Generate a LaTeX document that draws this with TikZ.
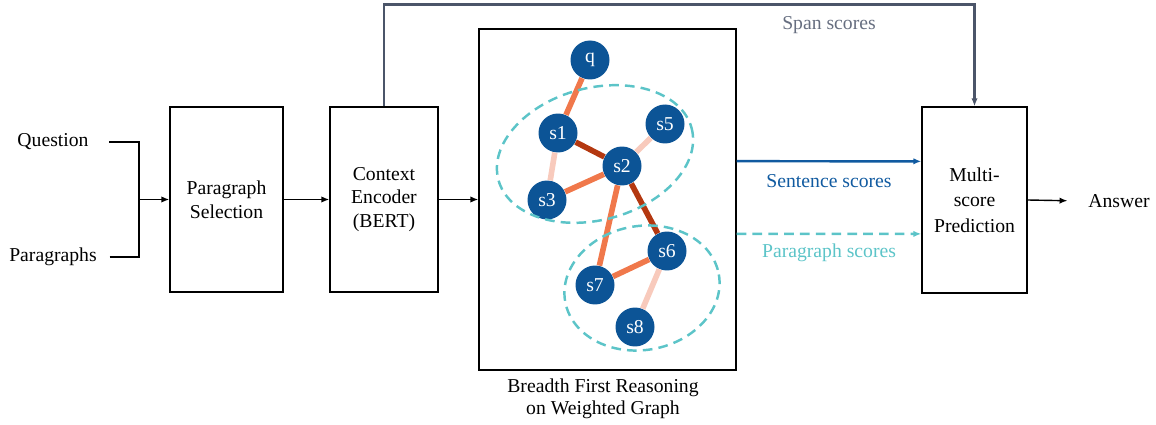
\documentclass[tikz,border=0pt]{standalone}
\usepackage{fontspec}
\setmainfont{Liberation Serif}
\usetikzlibrary{arrows.meta,calc}
\definecolor{nodeblue}{RGB}{12,84,150}
\definecolor{edgedark}{RGB}{180,56,16}
\definecolor{edgemid}{RGB}{240,120,75}
\definecolor{edgelight}{RGB}{248,202,188}
\definecolor{hoptea}{RGB}{92,196,200}
\definecolor{spangray}{RGB}{75,85,105}
\definecolor{sentblue}{RGB}{16,90,160}

\begin{document}
\begin{tikzpicture}[x=0.02cm,y=-0.02cm,
  >={Latex[length=4.5pt,width=3.6pt]},
  stage/.style={draw,line width=0.8pt,align=center,inner sep=0pt},
  gnode/.style={circle,fill=nodeblue,text=white,minimum size=0.78cm,inner sep=0pt},
  wdark/.style={edgedark,line width=3.2pt},
  wmid/.style={edgemid,line width=3.2pt},
  wlight/.style={edgelight,line width=3.2pt},
  hop/.style={hoptea,line width=1.4pt,dash pattern=on 5.5pt off 3.5pt}]
\fontsize{11.2}{13.6}\selectfont
\useasboundingbox (0,0) rectangle (1156,425);

% inputs
\node (ques) at (53,142) {Question};
\node (paras) at (53,257) {Paragraphs};
\coordinate (join) at (139,199.5);

% pipeline boxes
\node[stage,minimum width=2.26cm,minimum height=3.7cm] (sel) at (226.5,199.5) {Paragraph\\Selection};
\node[stage,minimum width=2.16cm,minimum height=3.7cm] (enc) at (384,199.5) {Context\\Encoder\\(BERT)};
\node[stage,minimum width=5.14cm,minimum height=6.82cm] (graph) at (607.5,199.5) {};
\node[stage,minimum width=2.1cm,minimum height=3.72cm,font=\fontsize{11.2}{14.4}\selectfont] (pred) at (974.5,200) {Multi-\\score\\Prediction};
\node (ans) at (1119,201) {Answer};

\node[align=center,font=\fontsize{11.2}{12.5}\selectfont] (cap) at (603,399) {Breadth First Reasoning\\on Weighted Graph};

% sentence graph
\node[gnode] (q)  at (590,60)  {q};
\node[gnode] (s1) at (558,133) {s1};
\node[gnode] (s5) at (665,124) {s5};
\node[gnode] (s2) at (622,166) {s2};
\node[gnode] (s3) at (547,200) {s3};
\node[gnode] (s6) at (667,251) {s6};
\node[gnode] (s7) at (595,285) {s7};
\node[gnode] (s8) at (635,327) {s8};

\draw[wmid] (q) -- (s1);
\draw[wdark] (s1) -- (s2);
\draw[wlight] (s1) -- (s3);
\draw[wlight] (s2) -- (s5);
\draw[wmid] (s2) -- (s3);
\draw[wmid] (s2) -- (s7);
\draw[wdark] (s2) -- (s6);
\draw[wmid] (s6) -- (s7);
\draw[wlight] (s6) -- (s8);

\draw[hop,rotate around={15:(595,154)}] (595,154) ellipse [x radius=100, y radius=66];
\draw[hop,rotate around={10:(642,288)}] (642,288) ellipse [x radius=78, y radius=62];

% connectors
\draw[line width=0.8pt] ([xshift=7.9pt]ques.east) -| (join);
\draw[line width=0.8pt] ([xshift=3.4pt]paras.east) -| (join);
\draw[->,line width=0.8pt] (join) -- (sel.west);
\draw[->,line width=0.8pt] (sel.east) -- (enc.west);
\draw[->,line width=0.8pt] (enc.east) -- (graph.west);
\draw[->,line width=0.8pt,shorten >=8pt] (pred.east) -- (ans.west);

\draw[->,spangray,line width=1.4pt] (enc.north) -- ++(0,-102) -| (pred.north);
\node[text=spangray!85] (spanlbl) at (829,25) {Span scores};

\draw[->,sentblue,line width=1.4pt] ([yshift=21.8pt]graph.east) -- ([yshift=22pt]pred.west);
\node[text=sentblue] (sentlbl) at (829,181) {Sentence scores};

\draw[->,hop] ([yshift=-19.6pt]graph.east) -- ([yshift=-19.3pt]pred.west);
\node[text=hoptea] (paralbl) at (829,253) {Paragraph scores};
\end{tikzpicture}
\end{document}
